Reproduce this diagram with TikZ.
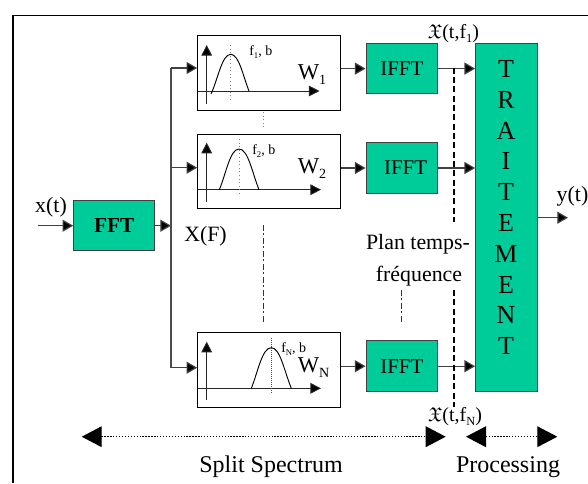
\documentclass[tikz,border=0pt]{standalone}
\usepackage{amssymb}
\usepackage{fontspec}
\setmainfont{Liberation Serif}
\usetikzlibrary{arrows.meta}
\definecolor{boxgreen}{RGB}{0,204,153}
\newcommand{\sbs}[1]{\raisebox{-0.22em}{\scalebox{0.62}{#1}}}
\tikzset{
  x=0.75pt,y=-0.75pt,
  block/.style={draw=black!75,fill=boxgreen,line width=0.8pt,minimum width=71.7*0.75pt,minimum height=50.5*0.75pt,inner sep=0pt,font=\fontsize{15.7}{18}\selectfont},
  filterbox/.style={draw=black,fill=white,line width=0.8pt,minimum width=142.6*0.75pt,minimum height=74.5*0.75pt,inner sep=0pt},
  conn/.style={draw=black!75,line width=0.9pt,-{Triangle[length=8pt,width=9pt,fill=black]}},
  axis/.style={draw=black!85,line width=0.7pt,-{Triangle[length=8pt,width=8pt,fill=black]}},
  bigtip/.style={draw=black,line width=1pt,dash pattern=on 1pt off 1.2pt,{Triangle[length=15pt,width=15.5pt,fill=black]}-{Triangle[length=15pt,width=15.5pt,fill=black]}},
  lbl/.style={inner sep=0pt,font=\fontsize{16.4}{19}\selectfont},
  small/.style={inner sep=0pt,font=\fontsize{10.5}{12}\selectfont},
  wlbl/.style={inner sep=0pt,font=\fontsize{17}{19}\selectfont},
  bump/.style={draw=black,line width=0.7pt},
  vdot/.style={draw=black!50,dotted,line width=0.7pt},
  dd/.style={draw=black!80,line width=0.6pt,dash pattern=on 4.5pt off 1.8pt on 1.2pt off 2.2pt},
  plan/.style={draw=black,line width=1pt,dash pattern=on 4.5pt off 2.5pt}
}
\begin{document}
\begin{tikzpicture}
\useasboundingbox (0,0) rectangle (588,483);
\draw[black,line width=1.1pt] (13,483) -- (13,15.3) -- (588,15.3);
% main blocks
\node[block,minimum width=81*0.75pt,font=\fontsize{16}{18}\selectfont\bfseries] (fft) at (114.2,225.7) {FFT};
\node[filterbox] (w1) at (269,72.8) {};
\node[filterbox] (w2) at (269,171.6) {};
\node[filterbox] (wn) at (269,370) {};
\node[block] (i1) at (401.9,68.6) {IFFT};
\node[block] (i2) at (401.9,168) {\hspace*{5.6pt}IFFT};
\node[block] (in) at (401.9,366.2) {IFFT};
\node[draw=black!75,fill=boxgreen,line width=0.8pt,minimum width=62.3*0.75pt,minimum height=348.4*0.75pt,inner sep=0pt] (tr) at (506.8,217.5) {};
\foreach \t/\y in {T/69,R/100,A/131,I/161,T/192,E/223,M/254,E/285,N/315,T/346}
  \node[inner sep=0pt,font=\fontsize{19.5}{22}\selectfont] (t\y) at (506,\y) {\t};
% input/output
\coordinate (in0) at (38,225.7);
\coordinate (out0) at (568,217.7);
\node[lbl] (xt) at (51,207) {x(t)};
\node[lbl] (yt) at (572.5,196.5) {y(t)};
\draw[conn] (in0) -- (fft.west);
\draw[conn] (tr.east |- out0) -- (out0);
% bus
\coordinate (busa) at (171,68);
\coordinate (busb) at (171,367.7);
\coordinate (busm) at (171,225.7);
\coordinate (bus2) at (171,167.7);
\draw[conn] (fft.east |- busm) -- (busm);
\draw[black!70,line width=0.9pt] (busa) -- (busb);
\draw[conn] (busa) -- (w1.west |- busa);
\draw[conn] (bus2) -- (w2.west |- bus2);
\draw[conn] (busb) -- (wn.west |- busb);
\node[lbl,anchor=west] (xf) at (184,236.7) {X(F)};
% filter to ifft
\draw[conn] (w1.east |- i1) -- (i1.west);
\draw[conn] (w2.east |- i2) -- (i2.west);
\draw[conn] (wn.east |- in) -- (in.west);
\draw[conn] (i1.east) -- (tr.west |- i1);
\draw[conn] (i2.east) -- (tr.west |- i2);
\draw[conn] (in.east) -- (tr.west |- in);
% filter W1
\draw[axis] (206.7,104.3) -- (206.7,45);
\draw[axis] (197.7,91) -- (319.5,91);
\draw[bump] (211,94) .. controls (218,79) and (222,54.3) .. (230.7,54.3) .. controls (239,54.3) and (243,76) .. (249,91);
\draw[vdot] (230.7,45) -- (230.7,100);
\node[small,anchor=west] (f1) at (249,52) {f\sbs{1}, b};
\node[wlbl,anchor=west] (w1l) at (297.5,75) {W\sbs{1}};
% filter W2
\draw[axis] (206.7,201.7) -- (206.7,142.7);
\draw[axis] (197.7,189.7) -- (321,189.7);
\draw[bump] (219.3,189.7) .. controls (226,174) and (230,149) .. (239,149) .. controls (248,149) and (252,172) .. (259,189.7);
\draw[vdot] (239,139) -- (239,194);
\node[small,anchor=west] (f2) at (252,151) {f\sbs{2}, b};
\node[wlbl,anchor=west] (w2l) at (297.5,169) {W\sbs{2}};
% filter WN
\draw[axis] (206.7,400) -- (206.7,341.7);
\draw[axis] (197.7,388.3) -- (321,388.3);
\draw[bump] (251.3,388.3) .. controls (258,372) and (262,347.7) .. (271.3,347.7) .. controls (280,347.7) and (284,370) .. (291.3,388.3);
\draw[black!70,densely dotted,line width=0.5pt] (271.3,338) -- (271.3,394);
\node[small,anchor=west] (fn) at (281,349) {f\sbs{N}, b};
\node[wlbl,anchor=west] (wnl) at (297.5,368) {W\sbs{N}};
% between filters
\draw[vdot] (263.3,112) -- (263.3,128.7);
\draw[dd] (263.3,225) -- (263.3,322);
\draw[dd] (401.7,290) -- (401.7,322);
% plan
\draw[plan] (454,67.7) -- (454,222);
\draw[plan] (454,290) -- (454,406.7);
\node[lbl] (p1) at (418,244) {Plan temps-};
\node[lbl] (p2) at (419,276) {fréquence};
\node[lbl,font=\fontsize{15}{17}\selectfont] (x1) at (453.5,33.5) {$\mathfrak{X}$(t,f\sbs{1})};
\node[lbl,font=\fontsize{15}{17}\selectfont] (xn) at (455,416.5) {$\mathfrak{X}$(t,f\sbs{N})};
% bottom arrows
\coordinate (a1) at (81.7,436.7);
\coordinate (a2) at (445.7,436.7);
\coordinate (a3) at (466,436.7);
\coordinate (a4) at (557.3,436.7);
\draw[bigtip] (a1) -- (a2);
\draw[bigtip] (a3) -- (a4);
\node[lbl,font=\fontsize{18}{21}\selectfont] (ss) at (271,467) {Split Spectrum};
\node[lbl,font=\fontsize{18}{21}\selectfont] (pr) at (508,467) {Processing};
\end{tikzpicture}
\end{document}
